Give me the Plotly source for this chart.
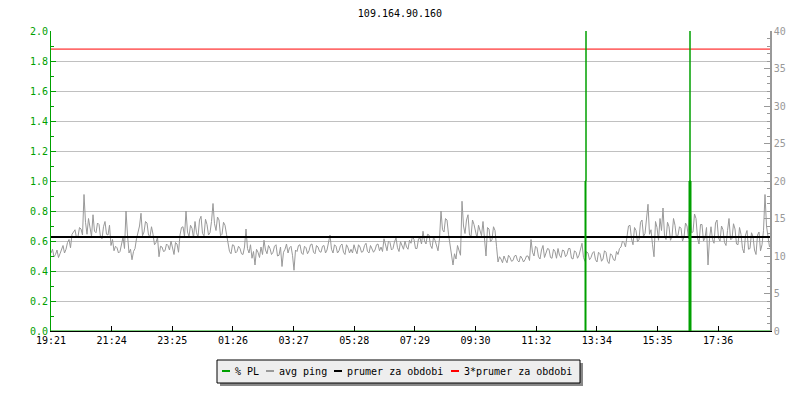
import plotly.graph_objects as go

# ---------------- data ----------------
title_text = "109.164.90.160"

tick_labels = ["19:21", "21:24", "23:25", "01:26", "03:27", "05:28",
               "07:29", "09:30", "11:32", "13:34", "15:35", "17:36"]
tick_step_min = 121.3          # spacing of the labelled ticks, minutes
sample_step_min = 3            # one ping sample every 3 minutes
x_end_min = 1438

# avg ping [ms], right axis -- readings at even sample slots
avg_ping_a = [
    10.4, 9.9, 10.8, 10.3, 11.4, 10.9, 12.2, 12.9, 13.5, 12.6,
    13.6, 18.2, 12.9, 14.0, 15.5, 13.1, 14.2, 12.3, 14.6, 12.8,
    11.4, 10.7, 11.1, 10.6, 12.5, 16.0, 10.4, 9.5, 11.0, 13.4,
    15.7, 13.2, 14.4, 12.6, 12.9, 11.8, 9.9, 11.2, 10.7, 11.4,
    12.0, 10.2, 11.6, 12.8, 13.9, 16.0, 12.6, 13.7, 14.6, 12.5,
    15.3, 12.7, 14.2, 13.1, 17.0, 13.4, 14.8, 12.9, 14.1, 11.8,
    10.3, 11.4, 10.6, 11.0, 10.2, 13.6, 10.4, 9.7, 8.8, 10.5,
    11.2, 12.1, 10.3, 11.0, 10.5, 11.5, 10.1, 8.6, 10.9, 10.4,
    11.3, 8.1, 10.6, 11.5, 10.2, 11.1, 10.7, 11.6, 10.3, 11.2,
    10.5, 11.4, 10.8, 12.8, 10.4, 11.3, 10.7, 11.6, 10.2, 11.1,
    10.9, 11.5, 10.3, 11.2, 10.6, 11.7, 10.4, 11.0, 10.8, 11.6,
    11.2, 12.3, 10.7, 11.8, 11.0, 12.4, 10.6, 11.5, 12.0, 10.9,
    11.7, 12.2, 11.0, 12.4, 13.3, 11.6, 12.8, 11.0, 12.1, 10.7,
    16.0, 13.2, 14.8, 11.3, 8.8, 9.6, 10.8, 17.3, 13.0, 15.5,
    12.6, 14.2, 12.4, 13.5, 14.6, 10.0, 13.6, 12.2, 13.4, 9.2,
    9.6, 10.0, 9.1, 9.8, 9.4, 10.1, 9.2, 9.7, 9.5, 10.0,
    12.2, 10.0, 11.1, 9.6, 11.4, 10.3, 10.9, 9.7, 10.6, 11.0,
    9.8, 10.7, 10.2, 11.0, 9.6, 10.5, 10.1, 11.7, 9.3, 10.4,
    9.8, 10.6, 9.2, 10.3, 9.6, 10.5, 9.0, 10.1, 9.4, 10.2,
    11.2, 11.8, 12.9, 14.1, 11.5, 13.4, 12.2, 14.8, 13.0, 16.9,
    13.5, 9.9, 13.8, 15.0, 16.4, 12.2, 13.9, 12.6, 14.1, 12.8,
    13.7, 12.5, 14.0, 17.7, 13.2, 15.0, 11.6, 14.2, 12.4, 8.8,
    13.9, 11.7, 14.8, 12.0, 13.5, 11.4, 15.0, 12.3, 13.6, 11.5,
    12.9, 10.4, 13.4, 11.0, 12.6, 10.2, 13.2, 11.5, 18.2, 12.4,
]
# avg ping [ms] -- readings at odd sample slots
avg_ping_b = [
    10.9, 10.2, 9.8, 11.0, 10.4, 11.8, 11.1, 13.2, 12.4, 13.8,
    12.8, 14.5, 15.0, 12.6, 13.3, 14.4, 12.5, 13.9, 12.9, 14.1,
    12.2, 11.3, 10.4, 11.5, 11.0, 12.8, 10.9, 10.6, 12.3, 14.0,
    12.7, 14.6, 12.8, 13.9, 11.5, 12.5, 11.3, 10.6, 11.6, 10.8,
    11.0, 11.8, 10.5, 13.8, 12.6, 13.2, 14.1, 12.4, 13.1, 14.8,
    13.0, 14.9, 12.8, 14.6, 14.3, 15.2, 12.7, 14.5, 12.9, 10.6,
    11.5, 10.4, 11.3, 10.3, 11.2, 11.0, 11.5, 10.6, 10.9, 9.8,
    10.2, 10.8, 11.4, 10.2, 11.3, 10.0, 11.2, 10.5, 11.6, 11.1,
    10.1, 10.8, 11.4, 10.4, 11.3, 10.3, 11.5, 10.5, 11.4, 10.6,
    11.3, 10.4, 11.6, 10.9, 11.5, 10.4, 11.4, 10.5, 11.5, 10.4,
    10.4, 10.8, 11.5, 10.5, 11.4, 10.6, 11.4, 10.5, 11.5, 10.7,
    10.6, 11.4, 12.0, 10.8, 11.9, 11.1, 11.9, 10.9, 11.2, 12.1,
    12.6, 11.0, 12.3, 11.6, 12.0, 12.9, 11.4, 12.5, 11.2, 12.3,
    13.5, 15.0, 12.9, 10.1, 10.3, 11.4, 10.1, 14.0, 14.8, 12.8,
    14.8, 13.0, 14.1, 12.7, 12.2, 13.8, 11.9, 13.9, 11.3, 9.9,
    9.1, 9.5, 10.1, 9.3, 10.0, 9.4, 10.0, 9.2, 10.0, 9.4,
    10.5, 11.3, 9.9, 10.8, 9.8, 11.0, 9.8, 10.9, 9.7, 10.1,
    10.8, 9.9, 11.0, 9.7, 10.7, 9.7, 10.9, 9.8, 10.6, 9.5,
    10.4, 9.5, 10.5, 9.3, 10.7, 9.3, 10.3, 9.5, 10.6, 11.0,
    12.0, 11.2, 14.0, 12.3, 13.8, 11.9, 14.5, 12.6, 15.2, 12.9,
    11.5, 14.6, 12.1, 13.4, 12.8, 14.5, 12.1, 15.0, 12.4, 13.9,
    12.0, 14.4, 12.3, 13.1, 15.6, 12.4, 14.2, 12.0, 13.8, 12.3,
    12.2, 14.4, 12.4, 14.0, 11.8, 13.4, 12.2, 14.3, 11.6, 13.8,
    11.0, 12.8, 10.9, 13.1, 10.8, 12.8, 10.7, 13.4, 14.0, 11.2,
]

# packet loss [%], left axis (0 everywhere except two short outages)
pl_minutes = [0, 1068, 1068, 1070, 1070, 1070, 1276, 1276, 1278, 1278, 1278, 1280, 1280, 1438]
pl_values  = [0, 0,    1,    1,    2.5,  0,    0,    1,    1,    2.5,  1,    1,    0,    0]

mean_ping = 12.53               # "prumer za obdobi"
mean_x = [0, x_end_min]

# ---------------- styling ----------------
FONT = "DejaVu Sans Mono"
GREEN = "#00a000"
GRAY = "#999999"
RED = "#ff0000"

avg_ping = []
for a, b in zip(avg_ping_a, avg_ping_b):
    avg_ping.extend([a, b])
ping_x = [i * sample_step_min for i in range(len(avg_ping))]
tick_vals = [k * tick_step_min for k in range(len(tick_labels))]

fig = go.Figure()

fig.add_trace(go.Scatter(x=ping_x, y=avg_ping, mode="lines", name="avg ping",
                         line=dict(color=GRAY, width=1), yaxis="y", showlegend=False))
fig.add_trace(go.Scatter(x=mean_x, y=[mean_ping, mean_ping], mode="lines",
                         name="prumer za obdobi", line=dict(color="#000000", width=2),
                         yaxis="y", showlegend=False))
fig.add_trace(go.Scatter(x=mean_x, y=[3 * mean_ping, 3 * mean_ping], mode="lines",
                         name="3*prumer za obdobi", line=dict(color=RED, width=1),
                         yaxis="y", showlegend=False))
fig.add_trace(go.Scatter(x=pl_minutes, y=pl_values, mode="lines", name="% PL",
                         line=dict(color=GREEN, width=1), fill="tozeroy",
                         fillcolor=GREEN, yaxis="y2", showlegend=False))

L, R, T, B = 51, 30, 31, 69
W, H = 800, 400
PW, PH = W - L - R, H - T - B


def px(xp):
    return (xp - L) / PW


def py(yp):
    return (T + PH - yp) / PH


shapes = []
annotations = []

# legend (drawn as paper shapes + text)
bx0, by0, bx1, by1 = 217, 360, 580, 383
shapes.append(dict(type="rect", xref="paper", yref="paper",
                   x0=px(bx0 + 3), x1=px(bx1 + 3), y0=py(by1 + 3), y1=py(by0 + 3),
                   fillcolor="#888888", line=dict(width=0), layer="above"))
shapes.append(dict(type="rect", xref="paper", yref="paper",
                   x0=px(bx0), x1=px(bx1), y0=py(by1), y1=py(by0),
                   fillcolor="#eeeeee", line=dict(color="#000000", width=1), layer="above"))

legend_items = [("% PL", GREEN, 222), ("avg ping", GRAY, 266),
                ("prumer za obdobi", "#000000", 334), ("3*prumer za obdobi", RED, 451)]
ly = 371
for text, col, x0 in legend_items:
    shapes.append(dict(type="line", xref="paper", yref="paper",
                       x0=px(x0), x1=px(x0 + 8), y0=py(ly), y1=py(ly),
                       line=dict(color=col, width=2), layer="above"))
    annotations.append(dict(text=text, xref="paper", yref="paper", x=px(x0 + 11), y=py(ly),
                            xanchor="left", yanchor="middle", showarrow=False,
                            font=dict(family=FONT, size=10, color="#000000")))

fig.update_layout(
    width=W, height=H,
    margin=dict(l=L, r=R, t=T, b=B),
    paper_bgcolor="white", plot_bgcolor="white",
    title=dict(text=title_text, x=0.5, xanchor="center", y=1 - 13 / H, yanchor="middle",
               font=dict(family=FONT, size=10, color="#000000")),
    font=dict(family=FONT, size=10),
    showlegend=False,
    xaxis=dict(range=[0, x_end_min], tickvals=tick_vals, ticktext=tick_labels,
               showgrid=False, zeroline=False, showline=True, linecolor="#000000",
               linewidth=1, ticks="inside", ticklen=5, tickcolor="#000000",
               tickfont=dict(family=FONT, size=10, color="#000000"), anchor="y"),
    yaxis=dict(range=[0, 40], side="right", dtick=5, showgrid=False, zeroline=False,
               showline=True, linecolor=GRAY, linewidth=1.5,
               ticks="inside", ticklen=6, tickcolor=GRAY,
               minor=dict(dtick=1, ticks="inside", ticklen=3, tickcolor=GRAY),
               tickfont=dict(family=FONT, size=10, color=GRAY)),
    yaxis2=dict(range=[0, 2], side="left", overlaying="y", dtick=0.2, tickformat=".1f",
                showgrid=True, gridcolor="#c0c0c0", gridwidth=1, zeroline=False,
                showline=True, linecolor=GREEN, linewidth=1,
                ticks="inside", ticklen=5, tickcolor=GREEN,
                minor=dict(dtick=0.1, ticks="inside", ticklen=3, tickcolor=GREEN),
                tickfont=dict(family=FONT, size=10, color=GREEN)),
    shapes=shapes,
    annotations=annotations,
)

fig.write_html("out.html",
               config={"displayModeBar": False},
               post_script="document.body.style.margin='0';"
                           "document.documentElement.style.overflow='hidden';")
